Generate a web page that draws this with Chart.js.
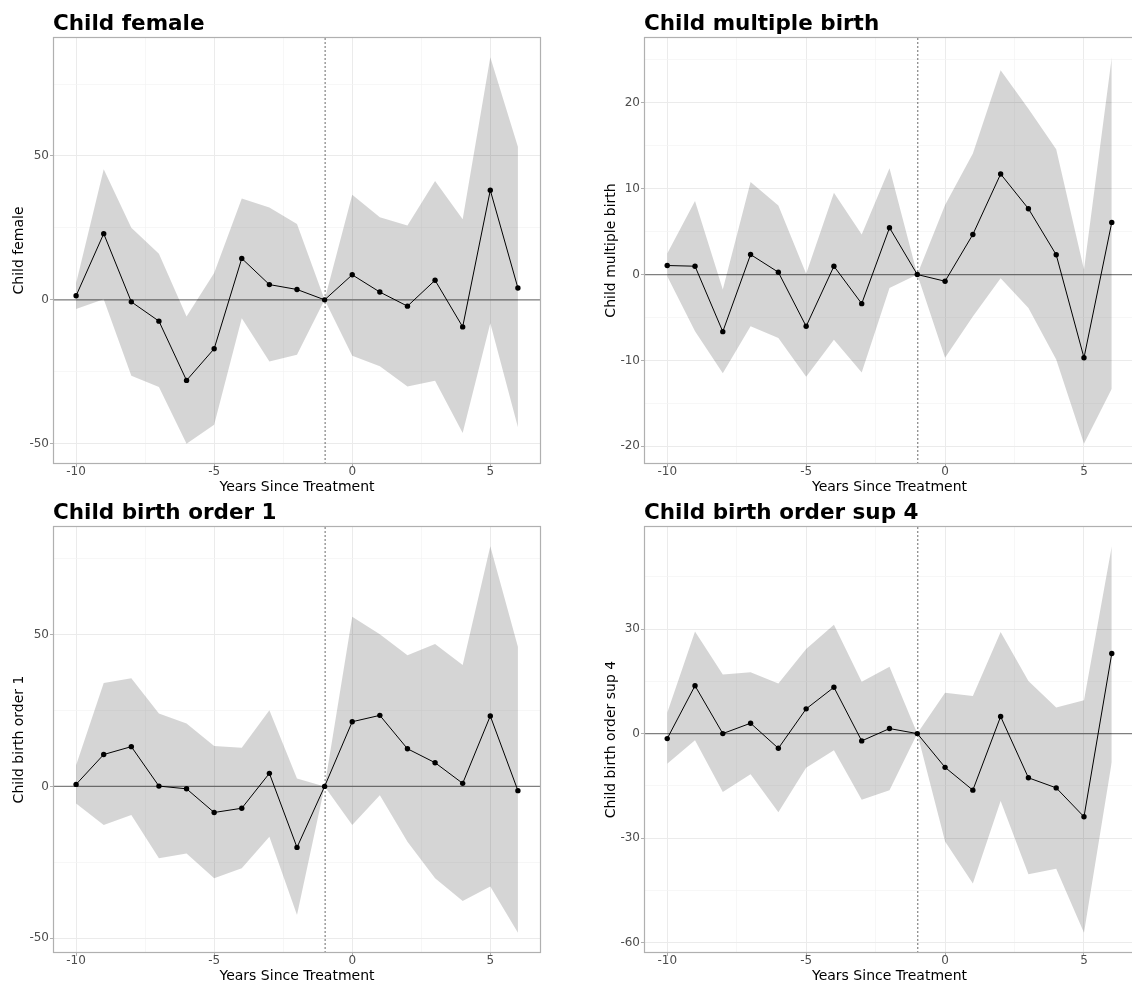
<!DOCTYPE html>
<html><head><meta charset="utf-8">
<script src="https://cdn.jsdelivr.net/npm/chart.js@4/dist/chart.umd.min.js"></script>
<style>
html,body{margin:0;padding:0;background:#fff;overflow:hidden;width:1132px;height:985px;position:relative}
canvas{position:absolute}
</style></head><body>
<canvas id="c0"></canvas><canvas id="c1"></canvas><canvas id="c2"></canvas><canvas id="c3"></canvas>
<script>
// ---- data ----
const years = [-10,-9,-8,-7,-6,-5,-4,-3,-2,-1,0,1,2,3,4,5,6];
const xTickLabels = [-10,-5,0,5];
const xAxisTitle = 'Years Since Treatment';
const refY = 0;
const treatYear = -1;

const femaleTitle = 'Child female';
const femaleEst   = [1.4, 23.0, -0.7, -7.4, -28.0, -17.0, 14.4, 5.3, 3.6, 0, 8.7, 2.7, -2.2, 6.8, -9.4, 38.1, 4.1];
const femaleUpper = [5.8, 45.4, 25.1, 16.0, -5.8, 9.3, 35.2, 32.1, 26.4, 0, 36.5, 28.7, 25.8, 41.3, 28.0, 84.3, 53.2];
const femaleLower = [-3.2, 0.2, -26.4, -30.3, -50.0, -43.4, -6.4, -21.4, -19.1, 0, -19.4, -23.1, -30.1, -28.1, -46.3, -8.1, -44.3];
const femaleYTicks = [-50, 0, 50];

const multipleTitle = 'Child multiple birth';
const multipleEst   = [1.05, 0.97, -6.65, 2.33, 0.27, -6.03, 0.97, -3.39, 5.45, 0, -0.78, 4.67, 11.71, 7.67, 2.30, -9.69, 6.07];
const multipleUpper = [2.45, 8.56, -1.75, 10.78, 8.05, 0.1, 9.53, 4.67, 12.37, 0, 8.1, 14.1, 23.8, 19.3, 14.6, 0.58, 25.3];
const multipleLower = [-0.2, -6.6, -11.5, -6.03, -7.4, -11.9, -7.6, -11.4, -1.56, 0, -9.7, -4.9, -0.43, -3.9, -9.9, -19.7, -13.3];
const multipleYTicks = [-20, -10, 0, 10, 20];

const order1Title = 'Child birth order 1';
const order1Est   = [0.66, 10.5, 13.1, 0.1, -0.8, -8.6, -7.2, 4.3, -20.1, 0, 21.3, 23.4, 12.4, 7.8, 1.0, 23.2, -1.4];
const order1Upper = [7.0, 34.1, 35.6, 24.0, 20.7, 13.3, 12.7, 25.1, 2.6, 0, 55.9, 50.1, 43.2, 46.9, 40.0, 79.1, 46.0];
const order1Lower = [-5.6, -12.7, -9.4, -23.7, -22.1, -30.3, -27.0, -16.6, -42.4, 0, -12.7, -2.9, -18.2, -30.3, -37.8, -33.0, -48.2];
const order1YTicks = [-50, 0, 50];

const sup4Title = 'Child birth order sup 4';
const sup4Est   = [-1.44, 13.75, 0, 2.98, -4.23, 7.1, 13.3, -2.1, 1.44, 0, -9.7, -16.25, 4.9, -12.7, -15.6, -23.9, 23.0];
const sup4Upper = [6.0, 29.3, 17.0, 17.6, 14.4, 24.3, 31.3, 14.9, 19.2, 0, 11.7, 10.8, 29.2, 15.1, 7.5, 9.6, 53.8];
const sup4Lower = [-8.7, -1.9, -16.8, -11.7, -22.6, -9.8, -4.8, -19.0, -16.3, 0, -31.0, -43.1, -19.4, -40.4, -38.8, -57.2, -8.2];
const sup4YTicks = [-60, -30, 0, 30];

// ---- drawing ----
const FAM = "'DejaVu Sans', 'Liberation Sans', sans-serif";

function withMinors(majors, lo, hi) {
  const step = majors.length > 1 ? majors[1] - majors[0] : 1;
  const out = [];
  for (let v = majors[0] - step; v <= hi + 1e-9; v += step / 2) {
    if (v >= lo - 1e-9) out.push(v);
  }
  return out;
}

function makeChart(id, left, top, width, height, yAxisWidth, yTitlePad, rightPad, title, est, upper, lower, yTicks) {
  const cv = document.getElementById(id);
  cv.width = width; cv.height = height;
  cv.style.left = left + 'px'; cv.style.top = top + 'px';
  cv.style.width = width + 'px'; cv.style.height = height + 'px';

  const lo = Math.min(...lower), hi = Math.max(...upper);
  const yPad = (hi - lo) * 0.05;
  const yMin = lo - yPad, yMax = hi + yPad;
  const xLo = Math.min(...years), xHi = Math.max(...years);
  const xPad = (xHi - xLo) * 0.05;
  const xMin = xLo - xPad, xMax = xHi + xPad;
  const yAll = withMinors(yTicks, yMin, yMax);
  const xAll = withMinors(xTickLabels, xMin, xMax);
  const plotTop = 38, plotBottom = 463;

  const isMajorX = v => xTickLabels.includes(v);
  const isMajorY = v => yTicks.includes(v);

  const refPlugin = {
    id: 'ref' + id,
    beforeDatasetDraw(chart, args) {
      if (args.index !== 2) return;
      const {ctx, chartArea: a, scales} = chart;
      ctx.save();
      const py = scales.y.getPixelForValue(refY);
      ctx.strokeStyle = '#7f7f7f'; ctx.lineWidth = 1.3;
      ctx.beginPath(); ctx.moveTo(a.left, py); ctx.lineTo(a.right, py); ctx.stroke();
      const px = scales.x.getPixelForValue(treatYear);
      ctx.strokeStyle = '#6a6a6a'; ctx.lineWidth = 1; ctx.setLineDash([2, 2]);
      ctx.beginPath(); ctx.moveTo(px + 0.5, a.top); ctx.lineTo(px + 0.5, a.bottom); ctx.stroke();
      ctx.restore();
    },
    afterDraw(chart) {
      const {ctx, chartArea: a} = chart;
      ctx.save();
      ctx.strokeStyle = '#b0b0b0'; ctx.lineWidth = 1.2;
      ctx.strokeRect(a.left - 0.5, a.top - 0.5, a.right - a.left + 1, a.bottom - a.top + 1);
      ctx.fillStyle = '#000';
      ctx.font = "bold 21.5px " + FAM;
      ctx.textBaseline = 'alphabetic'; ctx.textAlign = 'left';
      ctx.fillText(title, a.left - 1, a.top - 8);
      ctx.restore();
    }
  };

  return new Chart(cv, {
    type: 'line',
    data: {
      datasets: [
        { data: years.map((x, i) => ({x, y: upper[i]})), fill: '+1', backgroundColor: 'rgba(0,0,0,0.165)',
          borderWidth: 0, borderColor: 'rgba(0,0,0,0)', pointRadius: 0, tension: 0 },
        { data: years.map((x, i) => ({x, y: lower[i]})), fill: false,
          borderWidth: 0, borderColor: 'rgba(0,0,0,0)', pointRadius: 0, tension: 0 },
        { data: years.map((x, i) => ({x, y: est[i]})), fill: false, borderColor: '#000', borderWidth: 1,
          pointRadius: 2.7, pointBackgroundColor: '#000', pointBorderWidth: 0, tension: 0 }
      ]
    },
    options: {
      responsive: false, animation: false, devicePixelRatio: 1, events: [],
      layout: { padding: { top: plotTop, right: rightPad, bottom: 0, left: 0 } },
      plugins: { legend: { display: false }, tooltip: { enabled: false }, title: { display: false } },
      scales: {
        x: {
          type: 'linear', min: xMin, max: xMax,
          afterBuildTicks: s => { s.ticks = xAll.map(v => ({value: v})); },
          afterFit: s => { s.height = height - plotBottom; },
          border: { display: false },
          grid: {
            color: c => isMajorX(c.tick.value) ? '#ebebeb' : '#f4f4f4',
            lineWidth: c => isMajorX(c.tick.value) ? 1 : 0.7,
            tickColor: c => isMajorX(c.tick.value) ? '#b0b0b0' : 'rgba(0,0,0,0)',
            tickLength: 4
          },
          ticks: { callback: v => isMajorX(v) ? String(v) : '', color: '#4d4d4d', autoSkip: false, maxRotation: 0,
                   font: { family: FAM, size: 12, lineHeight: 1 }, padding: -1 },
          title: { display: true, text: xAxisTitle, color: '#000', font: { family: FAM, size: 14 }, padding: { top: 0, bottom: 4.6 } }
        },
        y: {
          type: 'linear', min: yMin, max: yMax,
          afterBuildTicks: s => { s.ticks = yAll.map(v => ({value: v})); },
          afterFit: s => { s.width = yAxisWidth; },
          border: { display: false },
          grid: {
            color: c => isMajorY(c.tick.value) ? '#ebebeb' : '#f4f4f4',
            lineWidth: c => isMajorY(c.tick.value) ? 1 : 0.7,
            tickColor: c => isMajorY(c.tick.value) ? '#b0b0b0' : 'rgba(0,0,0,0)',
            tickLength: 4
          },
          ticks: { callback: v => isMajorY(v) ? String(v) : '', color: '#4d4d4d', autoSkip: false,
                   font: { family: FAM, size: 12, lineHeight: 1 }, padding: 1 },
          title: { display: true, text: title, color: '#000', font: { family: FAM, size: 14 }, padding: { top: yTitlePad, bottom: 0 } }
        }
      }
    },
    plugins: [refPlugin]
  });
}

makeChart('c0', 0, 0, 566, 500, 54, 10.6, 26, femaleTitle, femaleEst, femaleUpper, femaleLower, femaleYTicks);
makeChart('c1', 566, 0, 600, 500, 79, 36.6, 32, multipleTitle, multipleEst, multipleUpper, multipleLower, multipleYTicks);
makeChart('c2', 0, 489, 566, 500, 54, 10.6, 26, order1Title, order1Est, order1Upper, order1Lower, order1YTicks);
makeChart('c3', 566, 489, 600, 500, 79, 36.6, 32, sup4Title, sup4Est, sup4Upper, sup4Lower, sup4YTicks);
</script>
</body></html>
